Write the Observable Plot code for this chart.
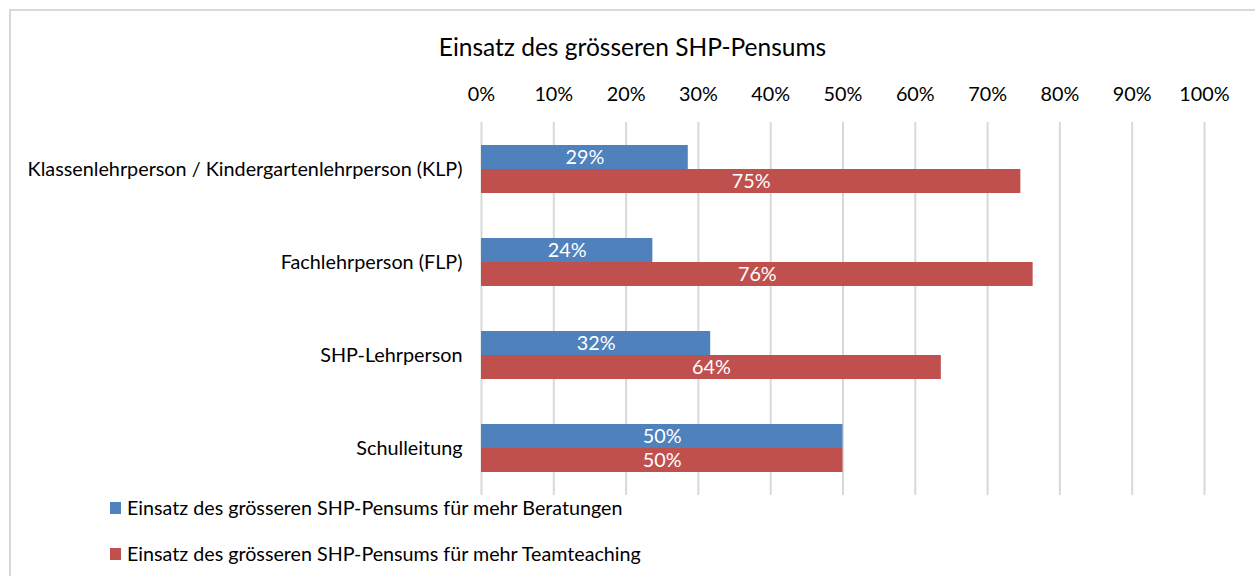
<!DOCTYPE html>
<html>
<head>
<meta charset="utf-8">
<script src="https://cdn.jsdelivr.net/npm/d3@7"></script>
<script src="https://cdn.jsdelivr.net/npm/@observablehq/plot@0.6"></script>
<style>
  html, body { margin: 0; padding: 0; background: #fff; }
  #wrap { position: relative; width: 1255px; height: 576px; overflow: hidden; font-family: Lato, sans-serif; color: #000; }
  #frame { position: absolute; left: 9px; top: 9px; width: 1300px; height: 600px; border-left: 2px solid #d9d9d9; border-top: 2px solid #d9d9d9; }
  #title { position: absolute; left: 10px; width: 1245px; top: 32px; text-align: center; font-size: 24.5px; line-height: 30px; }
  #chart { position: absolute; left: 0; top: 0; }
  .leg { position: absolute; left: 110px; font-size: 19.7px; line-height: 24px; display: flex; align-items: center; white-space: nowrap; }
  .sw { width: 11px; height: 12px; margin-right: 6px; }
</style>
</head>
<body>
<div id="wrap">
  <div id="frame"></div>
  <div id="title"></div>
  <div id="chart"></div>
  <div id="leg"></div>
</div>
<script>
const title = "Einsatz des grösseren SHP-Pensums";
const categories = [
  "Klassenlehrperson / Kindergartenlehrperson (KLP)",
  "Fachlehrperson (FLP)",
  "SHP-Lehrperson",
  "Schulleitung"
];
const seriesNames = [
  "Einsatz des grösseren SHP-Pensums für mehr Beratungen",
  "Einsatz des grösseren SHP-Pensums für mehr Teamteaching"
];
const seriesColors = ["#4f81bd", "#c0504d"];
const beratung = [28.6, 23.7, 31.7, 50.0];
const teamteaching = [74.6, 76.3, 63.6, 50.0];
const tickValues = [0, 10, 20, 30, 40, 50, 60, 70, 80, 90, 100];

const blue = categories.map((c, i) => ({cat: c, value: beratung[i]}));
const red = categories.map((c, i) => ({cat: c, value: teamteaching[i]}));

document.getElementById("title").textContent = title;

const half = 24;
const fs = 19.8;
const chart = Plot.plot({
  width: 1255,
  height: 500,
  marginTop: 122,
  marginBottom: 5,
  marginLeft: 481,
  marginRight: 51,
  style: {fontFamily: "Lato, sans-serif", fontSize: fs + "px", color: "#000", background: "transparent"},
  x: {domain: [0, 100]},
  y: {domain: categories, paddingInner: 0.485, paddingOuter: 0.2425},
  marks: [
    Plot.gridX(tickValues, {stroke: "#d9d9d9", strokeOpacity: 1, strokeWidth: 2}),
    Plot.axisX({anchor: "top", ticks: tickValues, tickFormat: d => d + "%", tickSize: 0, tickPadding: 22, fontSize: fs, fill: "#000", label: null}),
    Plot.axisY({tickSize: 0, tickPadding: 19, fontSize: fs, fill: "#000", label: null}),
    Plot.barX(blue, {x: "value", y: "cat", fill: seriesColors[0], insetBottom: half}),
    Plot.barX(red, {x: "value", y: "cat", fill: seriesColors[1], insetTop: half}),
    Plot.text(blue, {x: d => d.value / 2, y: "cat", text: d => Math.round(d.value) + "%", dy: -half / 2, fill: "white", fontSize: fs}),
    Plot.text(red, {x: d => d.value / 2, y: "cat", text: d => Math.round(d.value) + "%", dy: half / 2, fill: "white", fontSize: fs})
  ]
});
document.getElementById("chart").appendChild(chart);

const leg = document.getElementById("leg");
const legTops = [496, 542];
seriesNames.forEach((name, i) => {
  const row = document.createElement("div");
  row.className = "leg";
  row.style.top = legTops[i] + "px";
  const sw = document.createElement("div");
  sw.className = "sw";
  sw.style.background = seriesColors[i];
  const tx = document.createElement("span");
  tx.textContent = name;
  row.appendChild(sw);
  row.appendChild(tx);
  leg.appendChild(row);
});
</script>
</body>
</html>
